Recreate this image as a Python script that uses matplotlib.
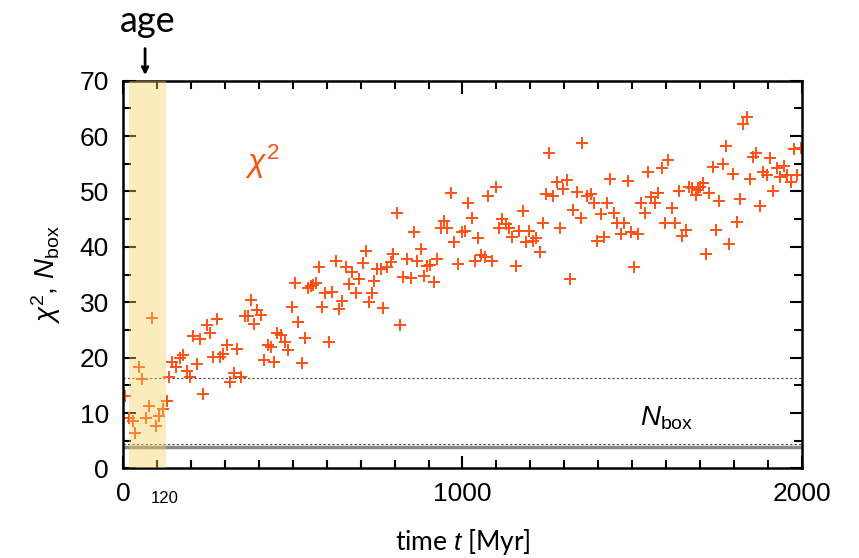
import numpy as np
import matplotlib.pyplot as plt
from matplotlib.ticker import MultipleLocator

# simulated chi^2 vs time
t_myr = [6, 18, 28, 35, 47, 57, 67, 78, 86, 96, 107, 117, 129, 136, 145, 156,
         168, 178, 188, 197, 205, 217, 227, 237, 246, 256, 266, 276, 286, 296,
         305, 315, 327, 337, 347, 359, 369, 377, 387, 394, 406, 416, 426, 436,
         446, 453, 465, 477, 487, 497, 507, 516, 526, 537, 546, 553, 561, 568,
         577, 587, 595, 607, 616, 626, 636, 646, 657, 666, 675, 685, 695, 706,
         716, 725, 732, 739, 749, 759, 767, 778, 788, 796, 806, 816, 826, 836,
         847, 857, 867, 877, 887, 896, 904, 916, 926, 936, 945, 955, 966, 976,
         988, 998, 1007, 1017, 1027, 1037, 1046, 1056, 1066, 1076, 1086, 1098,
         1107, 1117, 1127, 1137, 1147, 1157, 1166, 1177, 1186, 1196, 1208, 1218,
         1228, 1238, 1246, 1256, 1267, 1277, 1287, 1297, 1307, 1317, 1326, 1336,
         1348, 1352, 1366, 1378, 1387, 1397, 1407, 1418, 1426, 1436, 1446, 1456,
         1466, 1476, 1487, 1496, 1506, 1518, 1526, 1538, 1547, 1555, 1567, 1577,
         1587, 1596, 1606, 1616, 1626, 1638, 1647, 1657, 1667, 1677, 1687, 1695,
         1700, 1709, 1717, 1727, 1737, 1747, 1756, 1766, 1776, 1786, 1796, 1808,
         1817, 1827, 1837, 1847, 1857, 1866, 1876, 1886, 1896, 1906, 1915, 1925,
         1935, 1947, 1957, 1967, 1976, 1986, 1997]
chi2 = [13.1, 9.1, 8.6, 6.4, 18.3, 16.1, 9.2, 11.2, 27.2, 7.7, 9.5, 10.7, 12.2,
        16.6, 19.2, 18.3, 19.9, 20.4, 17.6, 16.6, 23.9, 18.9, 23.4, 13.4, 25.9,
        24.4, 20.1, 26.9, 20.1, 20.7, 22.3, 15.6, 17.2, 21.6, 16.5, 27.6, 27.6,
        30.5, 26.0, 28.6, 27.7, 19.6, 22.3, 21.9, 19.2, 24.4, 24.1, 22.9, 21.4,
        29.1, 33.5, 26.4, 19.0, 23.6, 32.5, 32.9, 33.2, 33.5, 36.4, 29.1, 31.7,
        22.9, 31.9, 37.5, 28.7, 30.2, 36.4, 33.3, 35.5, 31.7, 34.2, 37.1, 39.3,
        30.1, 31.6, 33.9, 36.0, 36.0, 28.9, 36.4, 37.3, 38.8, 46.2, 25.9, 34.6,
        37.9, 34.4, 42.7, 37.5, 39.6, 34.7, 36.6, 36.7, 33.6, 37.8, 43.5, 44.7,
        43.5, 49.8, 40.8, 37.0, 42.6, 42.9, 47.9, 45.2, 37.5, 41.6, 38.5, 38.2,
        49.2, 37.5, 50.9, 43.4, 45.0, 44.1, 43.4, 41.8, 36.6, 42.9, 46.5, 40.8,
        42.9, 41.1, 41.6, 39.1, 44.3, 49.5, 57.0, 49.2, 51.8, 43.5, 50.4, 52.1,
        34.2, 46.7, 49.9, 45.2, 58.8, 49.2, 49.5, 47.9, 41.1, 45.9, 41.8, 48.0,
        52.3, 46.1, 44.4, 42.3, 44.3, 51.9, 42.6, 36.3, 42.3, 48.0, 46.2, 53.6,
        49.0, 47.9, 49.8, 54.2, 44.3, 55.6, 47.1, 44.3, 50.1, 42.0, 43.1, 50.8,
        50.6, 49.4, 50.3, 50.9, 51.5, 38.7, 49.7, 54.5, 43.1, 48.2, 55.0, 58.2,
        40.5, 53.2, 44.5, 48.6, 62.1, 63.5, 52.2, 56.3, 57.0, 47.4, 53.6, 53.0,
        56.1, 50.0, 54.2, 52.6, 54.6, 53.0, 51.8, 57.6, 52.9, 57.9]

age_range = [18, 126]     # Myr, shaded band
nbox = 3.9                # N_box level
nbox_err = [4.5, 16.3]    # dotted reference levels

plt.rcParams['font.family'] = ['Liberation Sans', 'DejaVu Sans']
plt.rcParams['mathtext.fontset'] = 'custom'
plt.rcParams['mathtext.rm'] = 'Liberation Sans'
plt.rcParams['mathtext.it'] = 'Liberation Sans:italic'

fig = plt.figure(figsize=(8.59, 5.58), dpi=100)
ax = fig.add_axes([0.1432, 0.1604, 0.7904, 0.695])

ax.plot(t_myr, chi2, ls="none", marker="+", ms=8, mew=1.4, c="#ff5014", zorder=2)
ax.axvspan(age_range[0], age_range[1], color="#f7cf5c", alpha=0.4, lw=0, zorder=3)

ax.axhline(nbox, c="#8a8a8a", lw=2.5, zorder=1)
for lvl in nbox_err:
    ax.axhline(lvl, c="#444444", lw=0.8, ls=(0, (2, 2)), zorder=1)

ax.set_xlim(0, 2000)
ax.set_ylim(0, 70)
ax.set_xticks([0, 1000, 2000])
ax.set_yticks(np.arange(0, 71, 10))
ax.xaxis.set_minor_locator(MultipleLocator(100))
ax.yaxis.set_minor_locator(MultipleLocator(5))
ax.tick_params(which="both", direction="in", top=True, right=True, width=1.5,
               labelsize=19, pad=10)
ax.tick_params(which="major", length=9)
ax.tick_params(which="minor", length=6)
for s in ax.spines.values():
    s.set_linewidth(1.8)

ax.text(124, -0.058, "120", transform=ax.get_xaxis_transform(), fontsize=12,
        ha="center", va="top")

ax.set_xlabel(r"time $t$ [Myr]", fontsize=19, family="Lato", labelpad=15)
ax.set_ylabel(r"$\chi^2$, $N_{\rm box}$", fontsize=20, labelpad=12)

ax.text(410, 55.3, r"$\chi^2$", color="#ff5014", fontsize=23, ha="center", va="center")
ax.text(1600, 9.1, r"$N_{\rm box}$", fontsize=20, ha="center", va="center")

# age marker above the frame
ax.text(72, 80.6, "age", fontsize=26, family="Lato", ha="center", va="center",
        clip_on=False)
ax.annotate("", xy=(65, 70.5), xytext=(65, 76.3), annotation_clip=False,
            arrowprops=dict(arrowstyle="->", lw=2, color="k"))

fig.savefig("out.png", dpi=100)
